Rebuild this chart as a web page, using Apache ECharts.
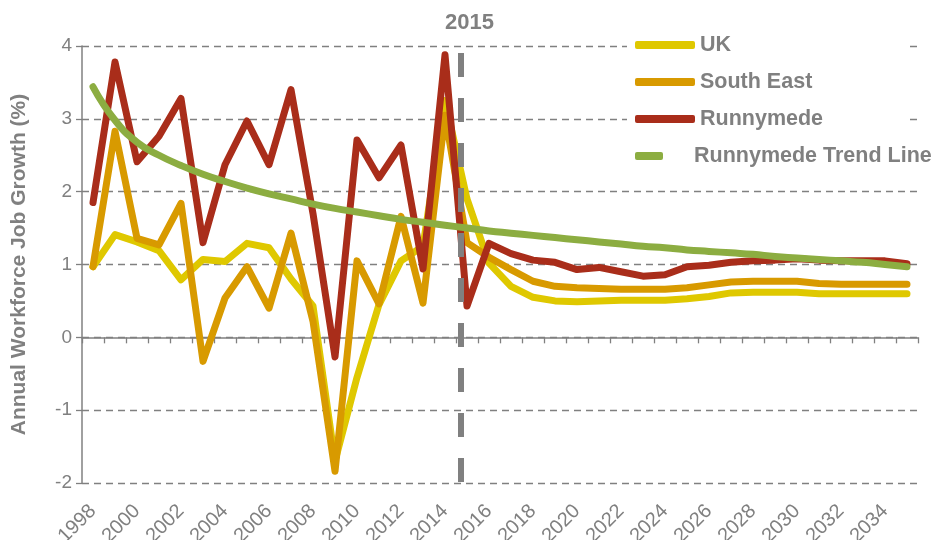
<!DOCTYPE html>
<html>
<head>
<meta charset="utf-8">
<script src="https://cdn.jsdelivr.net/npm/echarts@6/dist/echarts.min.js"></script>
<style>
html,body{margin:0;padding:0;background:#fff;}
#chart{width:931px;height:540px;}
</style>
</head>
<body>
<div id="chart"></div>
<script>
var years = ['1998','1999','2000','2001','2002','2003','2004','2005','2006','2007','2008','2009','2010','2011','2012','2013','2014','2015','2016','2017','2018','2019','2020','2021','2022','2023','2024','2025','2026','2027','2028','2029','2030','2031','2032','2033','2034','2035'];
var ukGrowth = [0.97,1.41,1.31,1.19,0.79,1.07,1.04,1.29,1.23,0.80,0.43,-1.70,-0.55,0.45,1.05,1.25,3.25,1.90,1.02,0.70,0.55,0.50,0.49,0.50,0.51,0.51,0.51,0.53,0.56,0.61,0.62,0.62,0.62,0.60,0.60,0.60,0.60,0.60];
var southEastGrowth = [0.97,2.83,1.36,1.27,1.84,-0.33,0.54,0.97,0.40,1.43,0.22,-1.84,1.05,0.46,1.66,0.47,3.05,1.30,1.10,0.93,0.77,0.70,0.68,0.67,0.66,0.66,0.66,0.68,0.72,0.76,0.77,0.77,0.77,0.74,0.73,0.73,0.73,0.73];
var runnymedeGrowth = [1.85,3.78,2.41,2.76,3.28,1.30,2.37,2.97,2.37,3.40,1.70,-0.27,2.71,2.19,2.64,0.94,3.88,0.43,1.29,1.15,1.06,1.03,0.93,0.96,0.90,0.84,0.86,0.97,0.99,1.03,1.05,1.06,1.08,1.06,1.05,1.05,1.05,1.01];
var runnymedeTrend = [3.44,2.98,2.68,2.50,2.36,2.24,2.14,2.05,1.97,1.90,1.83,1.77,1.72,1.67,1.62,1.58,1.54,1.50,1.46,1.43,1.40,1.37,1.34,1.31,1.28,1.25,1.23,1.20,1.18,1.16,1.14,1.11,1.09,1.07,1.05,1.03,1.00,0.97];
var yTicks = [-2,-1,0,1,2,3,4];
var markerLabel = '2015';
var markerPos = 16.7; // between the 2014 and 2015 categories

var gray = '#808080';
var font = 'Liberation Sans, Arial, sans-serif';

function lineSeries(name, data, color, extra) {
  var s = {
    name: name, type: 'line', data: data, xAxisIndex: 0, yAxisIndex: 0,
    showSymbol: false, symbol: 'none',
    lineStyle: { color: color, width: 7, cap: 'round', join: 'round' },
    itemStyle: { color: color },
    emphasis: { disabled: true },
    animation: false
  };
  for (var k in extra) s[k] = extra[k];
  return s;
}

var yMin = yTicks[0], yMax = yTicks[yTicks.length - 1];

var chart = echarts.init(document.getElementById('chart'), null, { renderer: 'canvas' });
chart.setOption({
  backgroundColor: '#fff',
  animation: false,
  textStyle: { fontFamily: font },
  grid: { left: 82, right: 13, top: 46, bottom: 57, containLabel: false, outerBoundsMode: 'none' },
  legend: [
    {
      data: ['UK', 'South East', 'Runnymede'],
      orient: 'vertical', left: 627, top: 21,
      padding: [12, 85, 8, 8],
      backgroundColor: '#fff',
      itemWidth: 60, itemHeight: 8, itemGap: 13,
      icon: 'roundRect',
      textStyle: { color: gray, fontSize: 21.5, fontWeight: 'bold', fontFamily: font, lineHeight: 24 },
      selectedMode: false
    },
    {
      data: ['Runnymede Trend Line'],
      orient: 'vertical', left: 627, top: 140,
      padding: [4, 4, 4, 8],
      itemWidth: 28, itemHeight: 8,
      icon: 'roundRect',
      textStyle: { color: gray, fontSize: 21.5, fontWeight: 'bold', fontFamily: font, lineHeight: 24, padding: [0, 0, 0, 26] },
      selectedMode: false
    }
  ],
  xAxis: [
    {
      type: 'category', data: years, position: 'bottom', boundaryGap: true,
      axisLine: { show: false, onZero: false },
      axisTick: { show: false },
      axisLabel: { interval: 1, rotate: 45, margin: 25, color: gray, fontSize: 20, fontFamily: font, hideOverlap: false },
      splitLine: { show: false }
    },
    {
      type: 'category', data: years, position: 'bottom', boundaryGap: true,
      axisLine: { show: true, onZero: true, lineStyle: { color: gray, width: 1.5 } },
      axisTick: { show: true, interval: 0, length: 6, lineStyle: { color: gray, width: 1.3 } },
      axisLabel: { show: false },
      splitLine: { show: false }
    },
    {
      type: 'value', show: false, min: -0.5, max: 37.5,
      axisLine: { onZero: false }
    }
  ],
  yAxis: {
    type: 'value', min: yMin, max: yMax, interval: 1,
    name: 'Annual Workforce Job Growth (%)',
    nameLocation: 'middle', nameGap: 52,
    nameTextStyle: { color: gray, fontSize: 21, fontWeight: 'bold', fontFamily: font },
    axisLine: { show: true, onZero: false, lineStyle: { color: gray, width: 1.5 } },
    axisTick: { show: true, length: 6, lineStyle: { color: gray, width: 1.3 } },
    axisLabel: { color: gray, fontSize: 19, margin: 10, fontFamily: font },
    splitLine: { show: true, lineStyle: { color: gray, width: 1.3, type: [7, 5] } }
  },
  series: [
    lineSeries('UK', ukGrowth, '#DFC800', {}),
    lineSeries('South East', southEastGrowth, '#D89A00', {}),
    lineSeries('Runnymede', runnymedeGrowth, '#A92D1A', {}),
    lineSeries('Runnymede Trend Line', runnymedeTrend, '#8CAD41', { smooth: true }),
    {
      name: 'marker', type: 'line', xAxisIndex: 2, yAxisIndex: 0, data: [],
      silent: true, z: 10,
      markLine: {
        silent: true, symbol: 'none', animation: false,
        lineStyle: { color: gray, width: 6, type: [24, 21], dashOffset: 38 },
        label: {
          show: true, position: 'start', formatter: markerLabel, distance: 12,
          color: gray, fontSize: 22, fontWeight: 'bold', fontFamily: font,
          padding: [0, 0, 0, 18]
        },
        data: [[{ coord: [markerPos, yMax] }, { coord: [markerPos, yMin] }]]
      }
    }
  ]
});
</script>
</body>
</html>
